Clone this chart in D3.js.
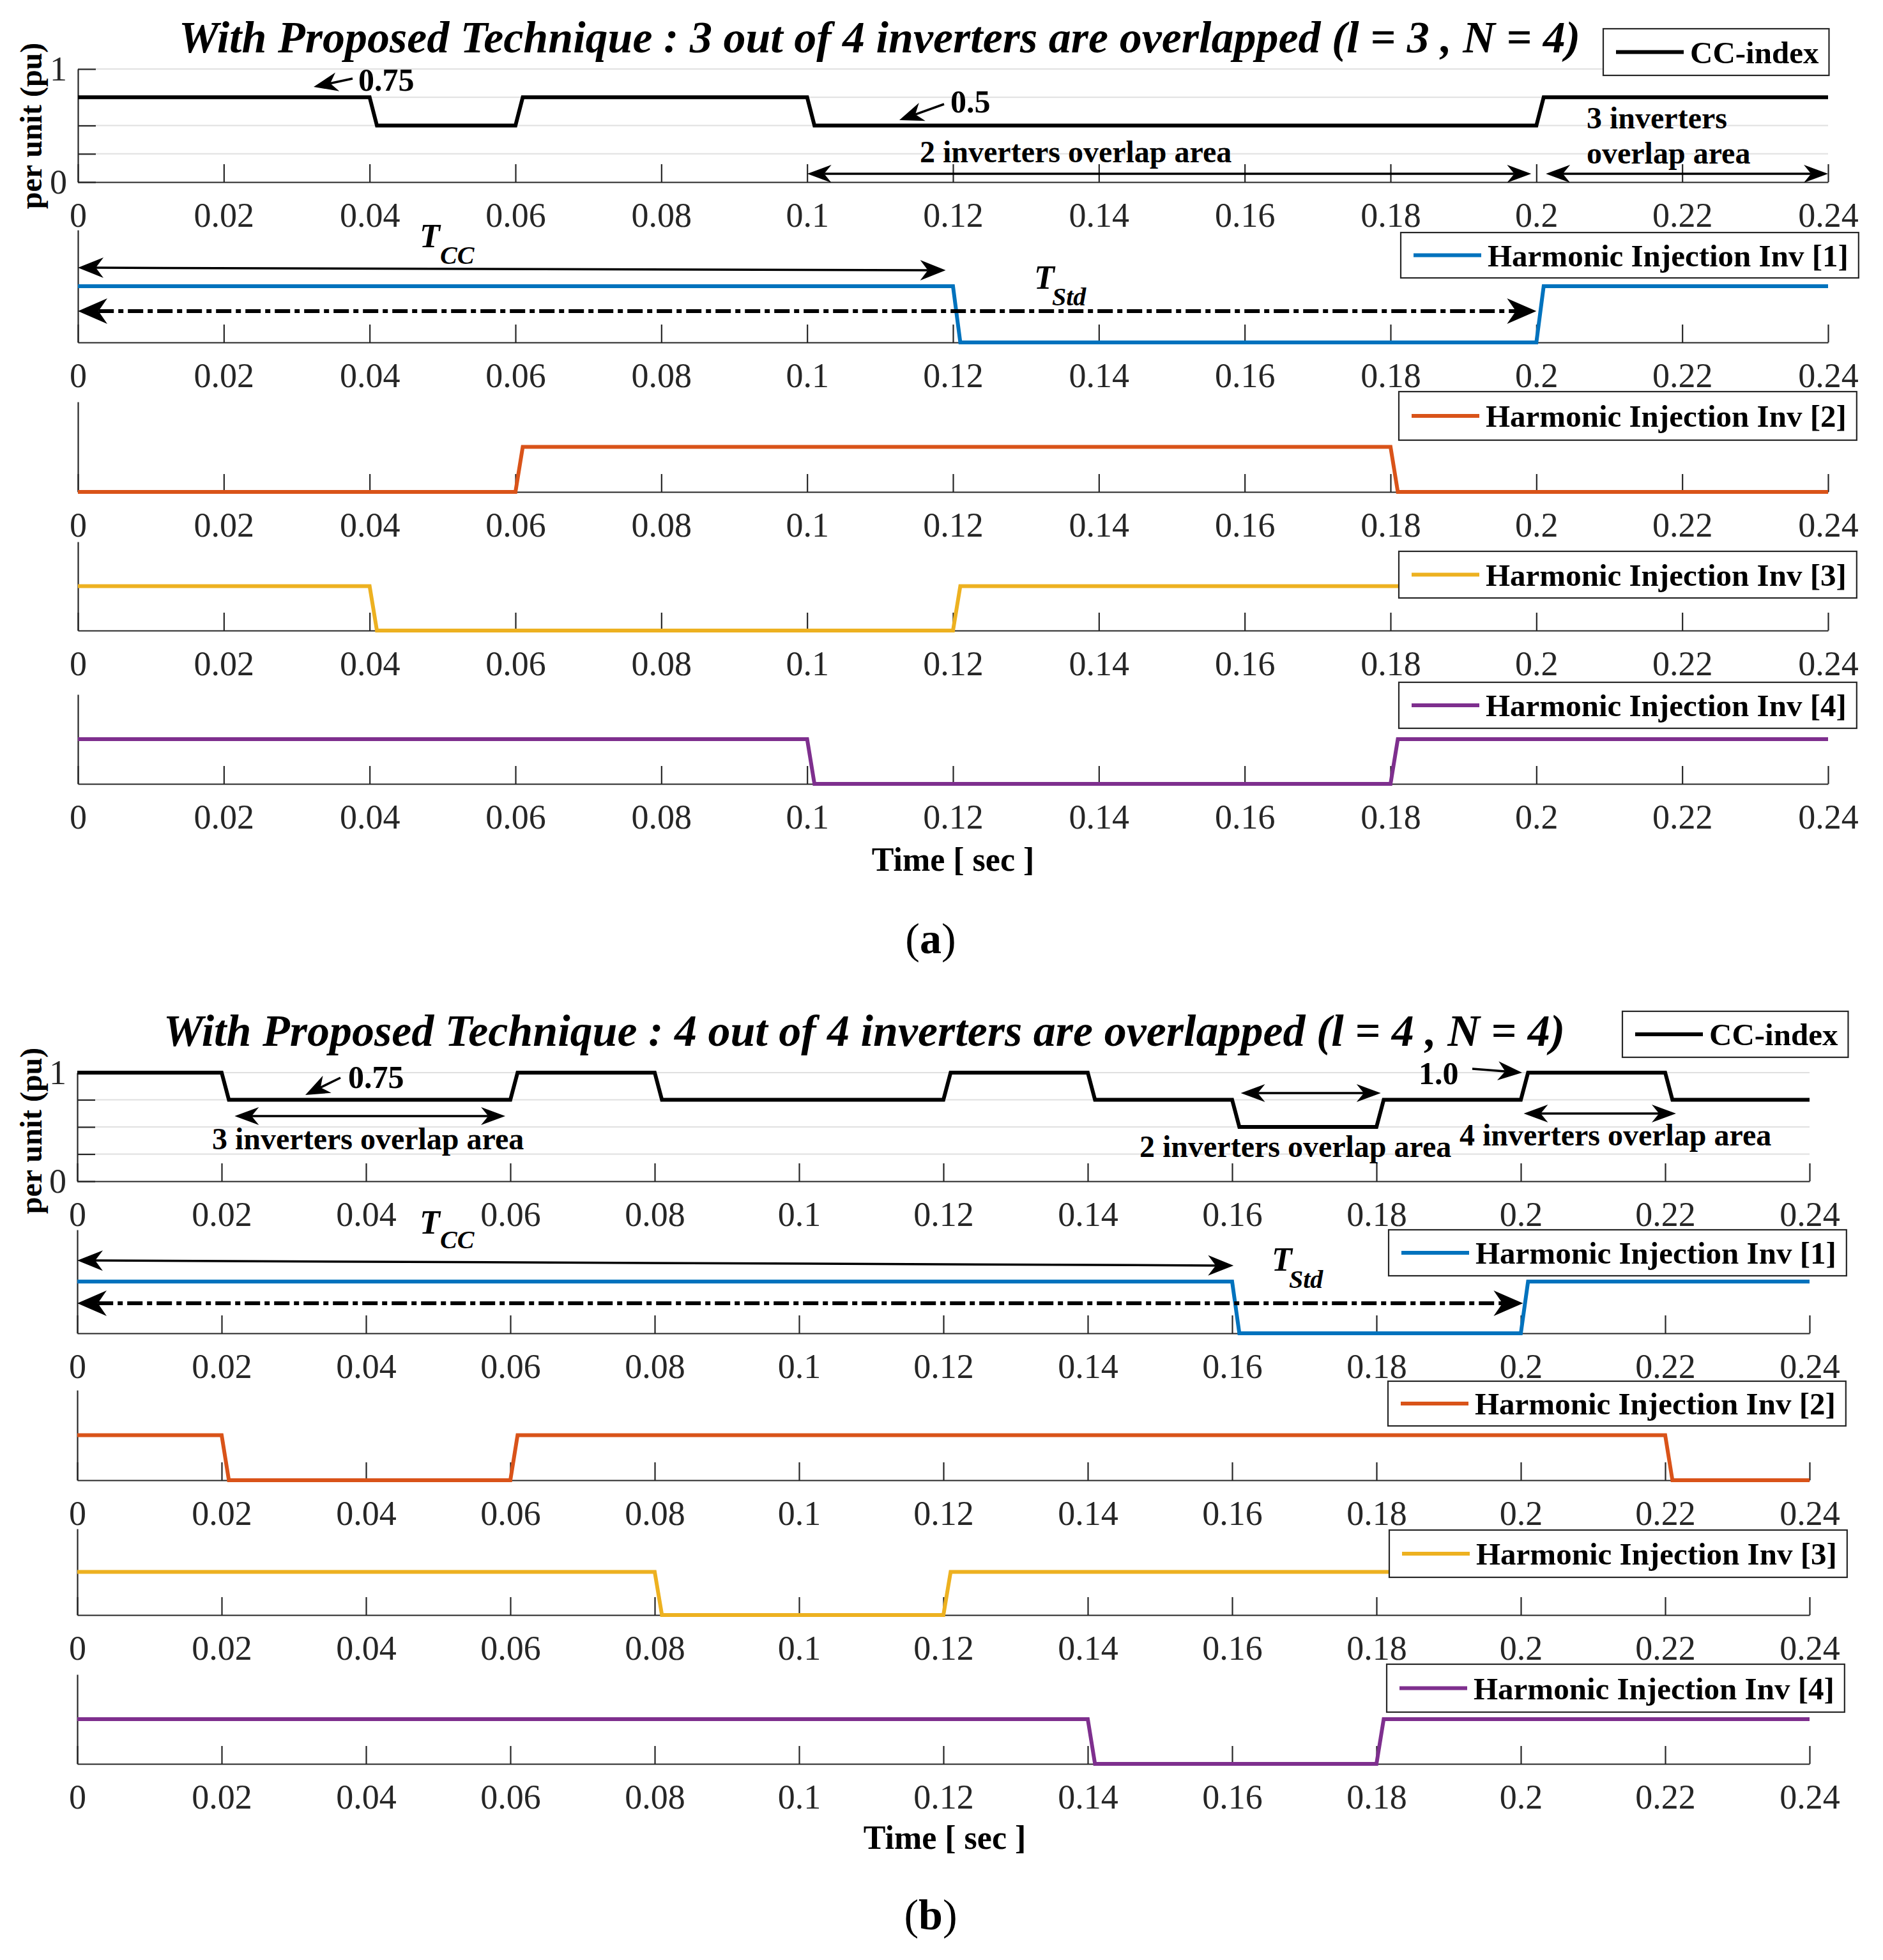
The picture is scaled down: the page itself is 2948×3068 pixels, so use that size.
<!DOCTYPE html>
<html><head><meta charset="utf-8">
<script src="https://cdn.jsdelivr.net/npm/d3@7"></script>
<style>body{margin:0;background:#fff} svg{display:block}</style>
</head><body><svg id="c" width="2948" height="3068"></svg>
<script>
// ---------------- DATA ----------------
const timeTicks = [0,0.02,0.04,0.06,0.08,0.1,0.12,0.14,0.16,0.18,0.2,0.22,0.24];
const timeTickLabels = ["0","0.02","0.04","0.06","0.08","0.1","0.12","0.14","0.16","0.18","0.2","0.22","0.24"];
const ccTicks = [0,0.25,0.5,0.75,1];
const ccTickLabels = ["0","","","","1"];
const seriesNames = ["CC-index","Harmonic Injection Inv [1]","Harmonic Injection Inv [2]","Harmonic Injection Inv [3]","Harmonic Injection Inv [4]"];

// (a) l = 3, N = 4
const ccIndexA = [[0,0.75],[0.04,0.75],[0.041,0.5],[0.06,0.5],[0.061,0.75],[0.1,0.75],[0.101,0.5],[0.2,0.5],[0.201,0.75],[0.24,0.75]];
const inv1A = [[0,1],[0.12,1],[0.121,0],[0.2,0],[0.201,1],[0.24,1]];
const inv2A = [[0,0],[0.06,0],[0.061,1],[0.18,1],[0.181,0],[0.24,0]];
const inv3A = [[0,1],[0.04,1],[0.041,0],[0.12,0],[0.121,1],[0.24,1]];
const inv4A = [[0,1],[0.1,1],[0.101,0],[0.18,0],[0.181,1],[0.24,1]];

// (b) l = 4, N = 4
const ccIndexB = [[0,1],[0.02,1],[0.021,0.75],[0.06,0.75],[0.061,1],[0.08,1],[0.081,0.75],[0.12,0.75],[0.121,1],[0.14,1],[0.141,0.75],[0.16,0.75],[0.161,0.5],[0.18,0.5],[0.181,0.75],[0.2,0.75],[0.201,1],[0.22,1],[0.221,0.75],[0.24,0.75]];
const inv1B = [[0,1],[0.16,1],[0.161,0],[0.2,0],[0.201,1],[0.24,1]];
const inv2B = [[0,1],[0.02,1],[0.021,0],[0.06,0],[0.061,1],[0.22,1],[0.221,0],[0.24,0]];
const inv3B = [[0,1],[0.08,1],[0.081,0],[0.12,0],[0.121,1],[0.24,1]];
const inv4B = [[0,1],[0.14,1],[0.141,0],[0.18,0],[0.181,1],[0.24,1]];

const titleA = "With Proposed Technique : 3 out of 4 inverters are overlapped (l = 3 , N = 4)";
const titleB = "With Proposed Technique : 4 out of 4 inverters are overlapped (l = 4 , N = 4)";

// ---------------- STYLE / LAYOUT ----------------
const seriesColors = ["#000000","#0072BD","#D95319","#EDB120","#7E2F8E"];
const FONT = "'Liberation Serif','Times New Roman',serif";
const AX = "#262626";

const figs = [
  { title: titleA, tag: "a", series: [ccIndexA, inv1A, inv2A, inv3A, inv4A],
    x0: 122, x1: 2862, titleX: 1377, titleY: 82, ylabY: 197, timeX: 1492, timeY: 1363, tagX: 1457, tagY: 1492,
    panels: [
      {top:108, bottom:285, lx:2510, ly:45, lh:73},
      {top:360, bottom:536, lx:2193, ly:364, lh:71},
      {top:629, bottom:770, lx:2190, ly:613, lh:76},
      {top:848, bottom:987, lx:2190, ly:863, lh:73},
      {top:1087, bottom:1227, lx:2190, ly:1068, lh:72}],
    labels: [
      {t:"0.75", x:561, y:142, fs:50}, {t:"0.5", x:1488, y:176, fs:50},
      {t:"2 inverters overlap area", x:1440, y:254, fs:48},
      {t:"3 inverters", x:2484, y:201, fs:48}, {t:"overlap area", x:2484, y:256, fs:48}],
    pointers: [{x1:552,y1:123,x2:491,y2:136},{x1:1478,y1:163,x2:1408,y2:188}],
    spans: [{t1:0.1, t2:0.1993, y:272}, {t1:0.2013, t2:0.24, y:272}],
    tcc: {t2:0.119, y1:419, y2:423, lx:657, ly:387, sx:689, sy:413},
    tstd: {t2:0.2, y:487, lx:1619, ly:452, sx:1647, sy:478}
  },
  { title: titleB, tag: "b", series: [ccIndexB, inv1B, inv2B, inv3B, inv4B],
    x0: 121, x1: 2833, titleX: 1353, titleY: 1637, ylabY: 1770, timeX: 1479, timeY: 2894, tagX: 1457, tagY: 3020,
    panels: [
      {top:1679, bottom:1849, lx:2540, ly:1583, lh:72},
      {top:1925, bottom:2087, lx:2174, ly:1925, lh:72},
      {top:2176, bottom:2317, lx:2173, ly:2162, lh:70},
      {top:2393, bottom:2528, lx:2175, ly:2395, lh:74},
      {top:2621, bottom:2761, lx:2171, ly:2605, lh:75}],
    labels: [
      {t:"0.75", x:545, y:1703, fs:50},
      {t:"3 inverters overlap area", x:332, y:1799, fs:48},
      {t:"2 inverters overlap area", x:1784, y:1811, fs:48},
      {t:"1.0", x:2221, y:1697, fs:50},
      {t:"4 inverters overlap area", x:2285, y:1793, fs:48}],
    pointers: [{x1:533,y1:1687,x2:478,y2:1714},{x1:2305,y1:1673,x2:2383,y2:1679}],
    spans: [{t1:0.0218, t2:0.0593, y:1747}, {t1:0.1612, t2:0.1806, y:1711}, {t1:0.2004, t2:0.2215, y:1743}],
    tcc: {t2:0.1602, y1:1973, y2:1981, lx:657, ly:1931, sx:689, sy:1954},
    tstd: {t2:0.2003, y:2040, lx:1991, ly:1989, sx:2018, sy:2016}
  }
];

const svg = d3.select("#c");
svg.append("rect").attr("width",2948).attr("height",3068).attr("fill","#fff");

function head(g, x, y, ang, L, W) {
  g.append("path")
    .attr("d", `M0,0 L${-L},${-W} L${-L*0.7},0 L${-L},${W} Z`)
    .attr("transform", `translate(${x},${y}) rotate(${ang*180/Math.PI})`)
    .attr("fill", "#000");
}
function arrow(g, x1, y1, x2, y2, o) {
  const ang = Math.atan2(y2-y1, x2-x1);
  const c = Math.cos(ang), s = Math.sin(ang);
  const back = o.L*0.7;
  const sx = o.both ? x1 + c*back : x1, sy = o.both ? y1 + s*back : y1;
  const ex = x2 - c*back, ey = y2 - s*back;
  const ln = g.append("line").attr("x1",sx).attr("y1",sy).attr("x2",ex).attr("y2",ey)
    .attr("stroke","#000").attr("stroke-width",o.w);
  if (o.dash) ln.attr("stroke-dasharray", o.dash);
  head(g, x2, y2, ang, o.L, o.W);
  if (o.both) head(g, x1, y1, ang + Math.PI, o.L, o.W);
}
function tLabel(g, lx, ly, sx, sy, sub) {
  g.append("text").attr("x",lx).attr("y",ly).attr("font-family",FONT).attr("font-weight","bold")
    .attr("font-style","italic").attr("font-size",52).text("T");
  g.append("text").attr("x",sx).attr("y",sy).attr("font-family",FONT).attr("font-weight","bold")
    .attr("font-style","italic").attr("font-size",40).text(sub);
}

figs.forEach(fig => {
  const x = d3.scaleLinear().domain([0,0.24]).range([fig.x0, fig.x1]);
  const legendLayer = [];
  fig.panels.forEach((p, i) => {
    const y = d3.scaleLinear().domain(i === 0 ? [0,1] : [0,2]).range([p.bottom, p.top]);
    const g = svg.append("g");
    if (i === 0) {
      g.selectAll("line.grid").data(ccTicks.filter(v => v > 0)).join("line")
        .attr("class","grid")
        .attr("x1", x(0)).attr("x2", x(0.24))
        .attr("y1", d => y(d)).attr("y2", d => y(d))
        .attr("stroke", "#e0e0e0").attr("stroke-width", 2);
    }
    const xa = d3.axisBottom(x).tickValues(timeTicks).tickFormat((d,k) => timeTickLabels[k])
      .tickSize(-28).tickSizeOuter(0).tickPadding(32);
    const gx = g.append("g").attr("transform", `translate(0,${p.bottom})`).call(xa);
    const ya = i === 0
      ? d3.axisLeft(y).tickValues(ccTicks).tickFormat((d,k) => ccTickLabels[k]).tickSize(-28).tickSizeOuter(0).tickPadding(17)
      : d3.axisLeft(y).tickValues([]).tickSizeOuter(0);
    const gy = g.append("g").attr("transform", `translate(${x(0)},0)`).call(ya);
    [gx, gy].forEach(a => {
      a.attr("font-family", FONT).attr("font-size", 54);
      a.select(".domain").attr("stroke", AX).attr("stroke-width", 2.2);
      a.selectAll(".tick line").attr("stroke", AX).attr("stroke-width", 2.2);
      a.selectAll(".tick text").attr("fill", AX);
    });
    const line = d3.line().x(d => x(d[0])).y(d => y(d[1]));
    g.append("path").datum(fig.series[i]).attr("d", line)
      .attr("fill","none").attr("stroke", seriesColors[i]).attr("stroke-width", 6)
      .attr("stroke-linejoin","miter");
    legendLayer.push({p, name: seriesNames[i], color: seriesColors[i]});
  });

  const an = svg.append("g");
  fig.labels.forEach(l => {
    an.append("text").attr("x", l.x).attr("y", l.y).attr("font-family", FONT)
      .attr("font-weight","bold").attr("font-size", l.fs).attr("fill","#000").text(l.t);
  });
  fig.pointers.forEach(a => arrow(an, a.x1, a.y1, a.x2, a.y2, {L:38, W:15, w:3.5}));
  fig.spans.forEach(s => arrow(an, x(s.t1), s.y, x(s.t2), s.y, {L:38, W:14, w:3.5, both:true}));
  arrow(an, x(0), fig.tcc.y1, x(fig.tcc.t2), fig.tcc.y2, {L:40, W:16, w:3.5, both:true});
  tLabel(an, fig.tcc.lx, fig.tcc.ly, fig.tcc.sx, fig.tcc.sy, "CC");
  arrow(an, x(0), fig.tstd.y, x(fig.tstd.t2), fig.tstd.y, {L:46, W:20, w:6, both:true, dash:"24,7,8,7"});
  tLabel(an, fig.tstd.lx, fig.tstd.ly, fig.tstd.sx, fig.tstd.sy, "Std");

  legendLayer.forEach(({p, name, color}) => {
    const g = svg.append("g");
    const rect = g.append("rect").attr("x", p.lx).attr("y", p.ly).attr("height", p.lh)
      .attr("fill", "#fff").attr("stroke", AX).attr("stroke-width", 2.2);
    const cy = p.ly + p.lh/2;
    g.append("line").attr("x1", p.lx+20).attr("x2", p.lx+126).attr("y1", cy).attr("y2", cy)
      .attr("stroke", color).attr("stroke-width", 6);
    const t = g.append("text").attr("x", p.lx+136).attr("y", cy+17).attr("font-family", FONT)
      .attr("font-weight","bold").attr("font-size", 49).attr("fill","#000").text(name);
    rect.attr("width", 136 + t.node().getComputedTextLength() + 16);
  });

  svg.append("text").attr("x", fig.titleX).attr("y", fig.titleY).attr("text-anchor","middle")
    .attr("font-family", FONT).attr("font-weight","bold").attr("font-style","italic")
    .attr("font-size", 70).text(fig.title);
  svg.append("text").attr("transform", `translate(48,${fig.ylabY}) rotate(-90)`)
    .attr("text-anchor","middle").attr("dominant-baseline","central")
    .attr("font-family", FONT).attr("font-weight","bold").attr("font-size", 48).text("per unit (pu)");
  svg.append("text").attr("x", fig.timeX).attr("y", fig.timeY).attr("text-anchor","middle")
    .attr("font-family", FONT).attr("font-weight","bold").attr("font-size", 52).text("Time [ sec ]");
  const tg = svg.append("text").attr("x", fig.tagX).attr("y", fig.tagY).attr("text-anchor","middle")
    .attr("font-family", FONT).attr("font-size", 68);
  tg.append("tspan").text("(");
  tg.append("tspan").attr("font-weight","bold").text(fig.tag);
  tg.append("tspan").text(")");
});
</script>
</body></html>
